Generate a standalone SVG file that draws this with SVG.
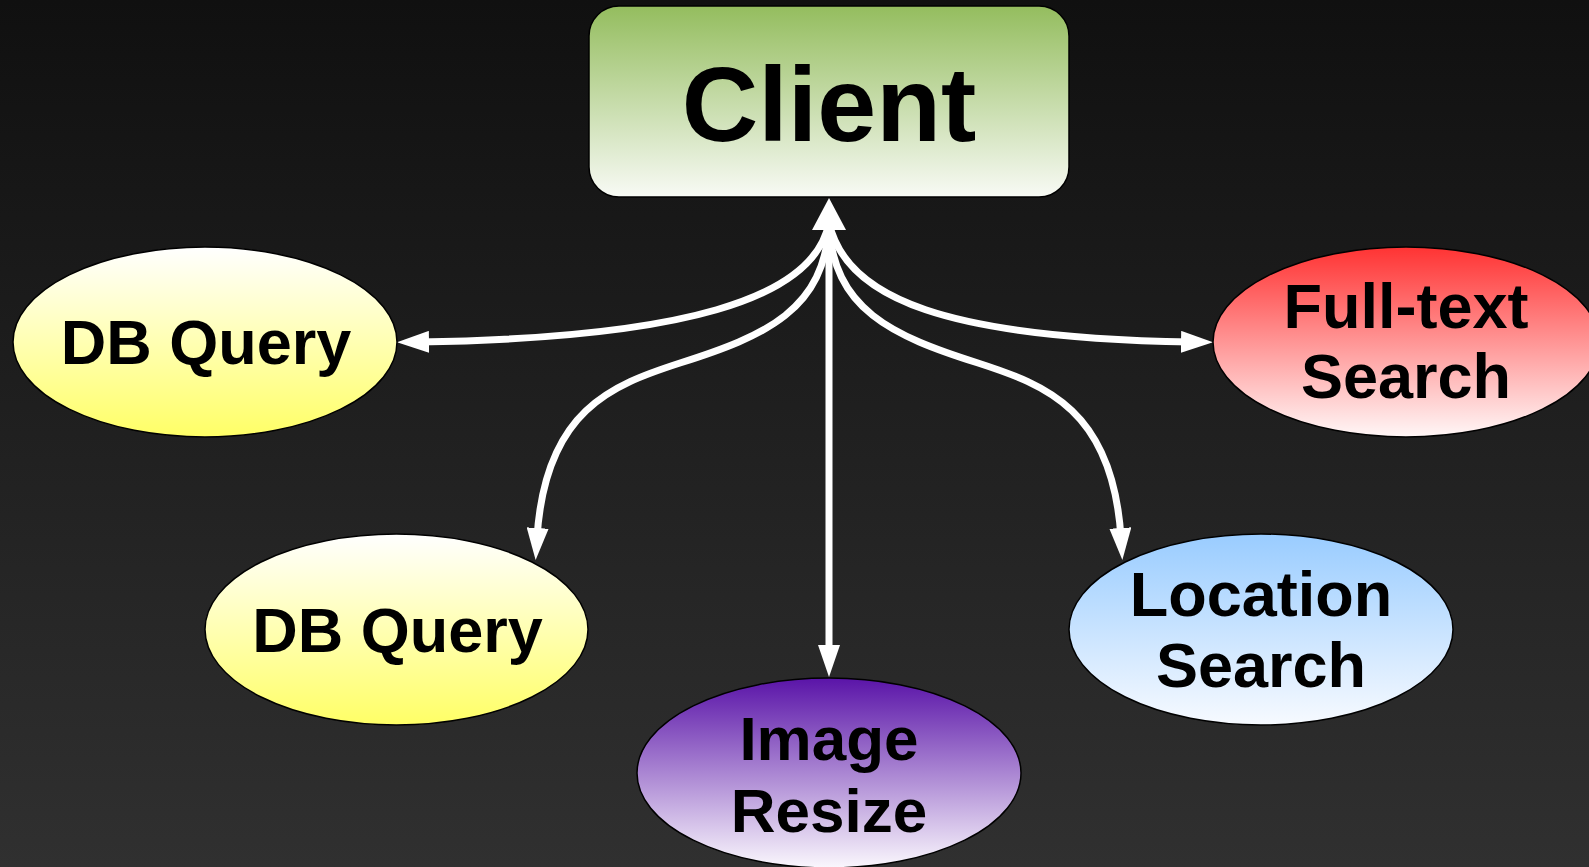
<svg xmlns="http://www.w3.org/2000/svg" width="1589" height="867" viewBox="0 0 1589 867">
  <defs>
    <linearGradient id="bg" x1="0" y1="0" x2="0" y2="1">
      <stop offset="0" stop-color="#101010"/>
      <stop offset="1" stop-color="#303030"/>
    </linearGradient>
    <linearGradient id="gClient" x1="0" y1="0" x2="0" y2="1">
      <stop offset="0" stop-color="#94bd5e"/>
      <stop offset="1" stop-color="#f8faf5"/>
    </linearGradient>
    <linearGradient id="gDB" x1="0" y1="0" x2="0" y2="1">
      <stop offset="0" stop-color="#ffffff"/>
      <stop offset="1" stop-color="#ffff66"/>
    </linearGradient>
    <linearGradient id="gImg" x1="0" y1="0" x2="0" y2="1">
      <stop offset="0" stop-color="#5a14a8"/>
      <stop offset="1" stop-color="#faf7fd"/>
    </linearGradient>
    <linearGradient id="gLoc" x1="0" y1="0" x2="0" y2="1">
      <stop offset="0" stop-color="#99ccff"/>
      <stop offset="1" stop-color="#f7faff"/>
    </linearGradient>
    <linearGradient id="gFull" x1="0" y1="0" x2="0" y2="1">
      <stop offset="0" stop-color="#ff3333"/>
      <stop offset="1" stop-color="#fff7f7"/>
    </linearGradient>
    <marker id="arrow" viewBox="0 0 32 22" markerWidth="32" markerHeight="22" refX="10" refY="11" markerUnits="userSpaceOnUse" orient="auto-start-reverse">
      <path d="M0,0 L32,11 L0,22 z" fill="#ffffff"/>
    </marker>
    <marker id="arrowHub" viewBox="0 0 32 34" markerWidth="32" markerHeight="34" refX="10" refY="17" markerUnits="userSpaceOnUse" orient="auto-start-reverse">
      <path d="M0,0 L32,17 L0,34 z" fill="#ffffff"/>
    </marker>
    <style>
      .node { stroke: #000000; stroke-width: 1.5; }
      .lbl { font-family: "Liberation Sans", Arial, sans-serif; font-weight: bold; fill: #000000; text-anchor: middle; }
      .edge { fill: none; stroke: #ffffff; stroke-width: 7; marker-end: url(#arrow); }
      .hub { marker-start: url(#arrowHub); }
    </style>
  </defs>

  <rect x="0" y="0" width="1589" height="867" fill="url(#bg)"/>

  <g id="connectors">
    <path class="edge" d="M829,222 C815,300 680,338 419,342"/>
    <path class="edge" d="M829,222 C845,300 950,338 1191,342"/>
    <path class="edge" d="M829,222 C826,310 765,336 680,363 C612,385 545,410 537,538"/>
    <path class="edge" d="M829,222 C832,310 893,336 978,363 C1046,385 1113,410 1121,538"/>
    <path class="edge hub" d="M829,220 L829,655"/>
  </g>

  <g id="client">
    <rect class="node" x="589" y="6" width="480" height="191" rx="30" ry="30" fill="url(#gClient)" stroke="#555555"/>
    <text class="lbl" x="829" y="141" font-size="106">Client</text>
  </g>

  <g id="dbquery1">
    <ellipse class="node" cx="205" cy="342" rx="192" ry="95" fill="url(#gDB)"/>
    <text class="lbl" x="206" y="364" font-size="63">DB Query</text>
  </g>

  <g id="dbquery2">
    <ellipse class="node" cx="396.5" cy="629.5" rx="191.5" ry="95.5" fill="url(#gDB)"/>
    <text class="lbl" x="397.5" y="652" font-size="63">DB Query</text>
  </g>

  <g id="imageresize">
    <ellipse class="node" cx="829" cy="773" rx="192" ry="95" fill="url(#gImg)"/>
    <text class="lbl" x="829" y="760" font-size="62">Image</text>
    <text class="lbl" x="829" y="832" font-size="62">Resize</text>
  </g>

  <g id="locationsearch">
    <ellipse class="node" cx="1261" cy="629.5" rx="192" ry="95.5" fill="url(#gLoc)"/>
    <text class="lbl" x="1261" y="616" font-size="63">Location</text>
    <text class="lbl" x="1261" y="687" font-size="63">Search</text>
  </g>

  <g id="fulltextsearch">
    <ellipse class="node" cx="1406" cy="342" rx="193" ry="95" fill="url(#gFull)"/>
    <text class="lbl" x="1406" y="328" font-size="63">Full-text</text>
    <text class="lbl" x="1406" y="398" font-size="63">Search</text>
  </g>
</svg>
